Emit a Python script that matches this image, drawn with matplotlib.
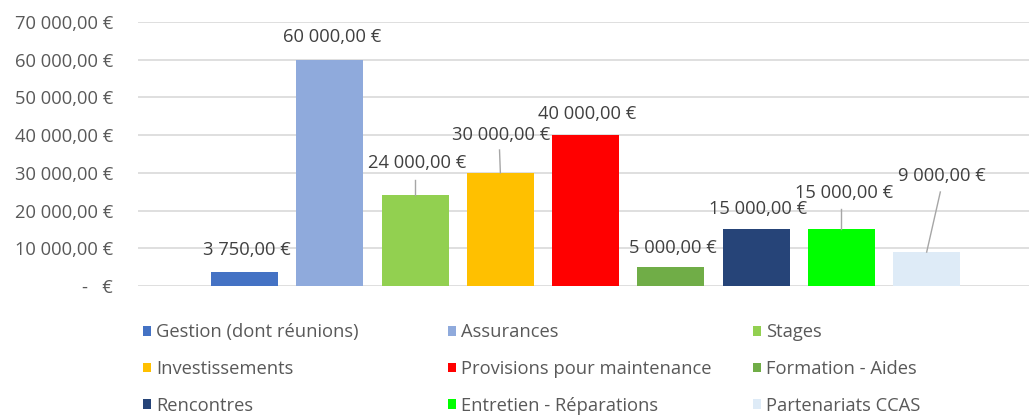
import matplotlib
matplotlib.use("Agg")
import matplotlib.pyplot as plt
from matplotlib.patches import Patch

# Data
categories = ["Gestion (dont réunions)", "Assurances", "Stages",
              "Investissements", "Provisions pour maintenance", "Formation - Aides",
              "Rencontres", "Entretien - Réparations", "Partenariats CCAS"]
values = [3750, 60000, 24000, 30000, 40000, 5000, 15000, 15000, 9000]
colors = ["#4472C4", "#8FAADC", "#92D050", "#FFC000", "#FF0000",
          "#70AD47", "#264478", "#00FF00", "#DEEBF7"]
yticks = [0, 10000, 20000, 30000, 40000, 50000, 60000, 70000]

# label placement (x shift, label y) and leader lines, as in the source chart
label_dx = [0.03, 0.03, 0.02, 0.01, 0.02, 0.02, 0.02, 0.03, 0.18]
label_y = [9545, 66023, 32613, 40038, 45606, 10076, 20417, 24659, 29167]
leaders = {2: (0.0, 28106), 3: (-0.01, 36060), 7: (0.0, 20417), 8: (0.16, 24924)}


def euro(v):
    if v == 0:
        return "-   €"
    return f"{v:,.2f}".replace(",", " ").replace(".", ",") + " €"


plt.rcParams['font.family'] = ['Open Sans', 'DejaVu Sans']
FS = 13.2

fig = plt.figure(figsize=(10.29, 4.17), dpi=100)
ax = fig.add_axes([138/1029, 1-286/417, 1-138/1029, 264/417])

x = list(range(len(values)))
ax.bar(x, values, width=0.785, color=colors, zorder=3)

ax.set_ylim(0, 70000)
ax.set_xlim(-1.25, 9.2)
ax.set_yticks(yticks)
ax.set_yticklabels([euro(v) for v in yticks], fontsize=FS, color="#595959")
ax.tick_params(axis="y", length=0, pad=18)
ax.set_xticks([])
ax.grid(axis="y", color="#D9D9D9", lw=1.2, zorder=0)
for s in ax.spines.values():
    s.set_visible(False)

for i, v in enumerate(values):
    ax.text(i + label_dx[i], label_y[i], euro(v), ha="center", va="center",
            fontsize=FS, color="#404040", zorder=5)
    if i in leaders:
        lx, ly = leaders[i]
        ax.plot([i + lx, i], [ly, v], color="#A6A6A6", lw=1, zorder=4)

# legend: three columns laid out row-wise like Excel
handles = [Patch(facecolor=c, edgecolor="none") for c in colors]
col_x = [143, 448, 753]
for k in range(3):
    leg = fig.legend(handles[k::3], categories[k::3], loc="center left",
                     bbox_to_anchor=(col_x[k]/1029, 1-369/417),
                     frameon=False, fontsize=FS, borderpad=0, borderaxespad=0,
                     handlelength=0.42, handleheight=0.42, handletextpad=0.3,
                     labelspacing=1.01, labelcolor="#595959")

fig.savefig("out.png", dpi=100)
